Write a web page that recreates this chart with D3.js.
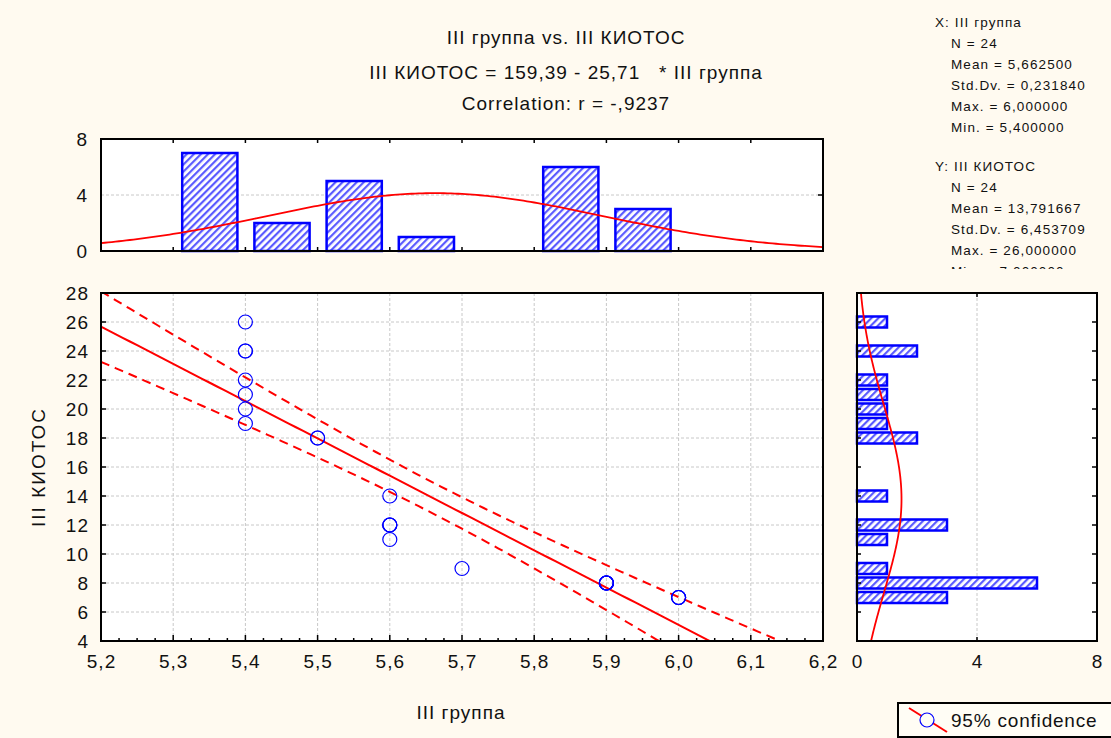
<!DOCTYPE html>
<html>
<head>
<meta charset="utf-8">
<script src="https://cdn.jsdelivr.net/npm/d3@7/dist/d3.min.js"></script>
<style>
  body { margin: 0; background: #fffaf0; }
  svg { display: block; font-family: "Liberation Sans", Arial, sans-serif; }
  text.title { white-space: pre; }
</style>
</head>
<body>
<div class="chart"></div>
<script>
function wrapper(){

// data
var xVals = [5.4,5.4,5.4,5.4,5.4,5.4,5.4, 5.5,5.5, 5.6,5.6,5.6,5.6,5.6, 5.7, 5.9,5.9,5.9,5.9,5.9,5.9, 6.0,6.0,6.0];
var yVals = [26,24,24,22,21,20,19, 18,18, 14,12,12,12,11, 9, 8,8,8,8,8,8, 7,7,7];

// histogram of X (bins as drawn: upper edge = value)
var xBinLo = [5.3, 5.4, 5.5, 5.6, 5.8, 5.9];
var xBinCount = [7, 2, 5, 1, 6, 3];
// histogram of Y (centered on the value)
var yBinVal = [26, 24, 22, 21, 20, 19, 18, 14, 12, 11, 9, 8, 7];
var yBinCount = [1, 2, 1, 1, 1, 1, 2, 1, 3, 1, 1, 6, 3];

var xTicks = [5.2,5.3,5.4,5.5,5.6,5.7,5.8,5.9,6.0,6.1,6.2];
var yTicks = [4,6,8,10,12,14,16,18,20,22,24,26,28];
var histTicks = [0,4,8];

var titleLines = ["III группа vs. III КИОТОС",
                  "III КИОТОС = 159,39 - 25,71   * III группа",
                  "Correlation: r = -,9237"];
var statsX = ["X:  III группа", "N = 24", "Mean = 5,662500", "Std.Dv. = 0,231840", "Max. = 6,000000", "Min. = 5,400000"];
var statsY = ["Y:  III КИОТОС", "N = 24", "Mean = 13,791667", "Std.Dv. = 6,453709", "Max. = 26,000000", "Min. = 7,000000"];

var W = 1111, H = 738;
var svg = d3.select("div.chart").append("svg").attr("width", W).attr("height", H);

var defs = svg.append("defs");
var pat = defs.append("pattern").attr("id", "hatch")
    .attr("patternUnits", "userSpaceOnUse").attr("width", 5).attr("height", 5)
    .attr("patternTransform", "rotate(45)");
pat.append("rect").attr("width", 5).attr("height", 5).attr("fill", "#fff");
pat.append("rect").attr("width", 2.2).attr("height", 5).attr("fill", "#5a5aff");

var blue = "#0000ff", red = "#ff0000";
var fs = 19, ls = 1;

// scales
var x = d3.scaleLinear().domain([5.2, 6.2]).range([101, 823]);
var y = d3.scaleLinear().domain([4, 28]).range([641, 293]);
var hy = d3.scaleLinear().domain([0, 8]).range([251, 139]);
var hx = d3.scaleLinear().domain([0, 8]).range([857, 1097]);

// stats
var n = xVals.length;
var mx = d3.mean(xVals), my = d3.mean(yVals);
var sx = d3.deviation(xVals), sy = d3.deviation(yVals);
var sxx = d3.sum(xVals, function(d){ return (d - mx) * (d - mx); });
var sxy = d3.sum(xVals, function(d, i){ return (d - mx) * (yVals[i] - my); });
var b = sxy / sxx, a = my - b * mx;
var ssr = d3.sum(xVals, function(d, i){ var e = yVals[i] - (a + b * d); return e * e; });
var s = Math.sqrt(ssr / (n - 2));
var tval = 2.074;
function npdf(v, m, sd){ return Math.exp(-0.5 * Math.pow((v - m) / sd, 2)) / (sd * Math.sqrt(2 * Math.PI)); }

function styleText(sel){
  sel.attr("font-size", fs).attr("letter-spacing", ls).attr("fill", "#111")
     .attr("font-family", "Liberation Sans, Arial, sans-serif");
}

// ---------- titles ----------
svg.selectAll(".title").data(titleLines).enter().append("text")
    .attr("class", "title")
    .attr("x", 566).attr("y", function(d, i){ return [44, 79, 110][i]; })
    .attr("text-anchor", "middle").call(styleText)
    .text(function(d){ return d; });

// ---------- stats box ----------
defs.append("clipPath").attr("id", "statsClip").append("rect")
    .attr("x", 900).attr("y", 0).attr("width", 211).attr("height", 269);
var st = svg.append("g").attr("clip-path", "url(#statsClip)")
    .attr("font-size", 13.5).attr("letter-spacing", 1.1).attr("fill", "#111");
[statsX, statsY].forEach(function(block, bi){
  st.selectAll(".s" + bi).data(block).enter().append("text")
    .attr("x", function(d, i){ return i === 0 ? 935 : 951; })
    .attr("y", function(d, i){ return (bi === 0 ? 27 : 171) + i * 21; })
    .text(function(d){ return d; });
});

// ---------- scatter ----------
var sc = svg.append("g");
sc.append("rect").attr("x", 101).attr("y", 293).attr("width", 722).attr("height", 348).attr("fill", "#fff");
sc.selectAll(".gx").data(xTicks.slice(1, -1)).enter().append("line")
    .attr("x1", function(d){ return x(d); }).attr("x2", function(d){ return x(d); })
    .attr("y1", 293).attr("y2", 641)
    .attr("stroke", "#c8c8c8").attr("stroke-dasharray", "3,2");
sc.selectAll(".gy").data(yTicks.slice(1, -1)).enter().append("line")
    .attr("y1", function(d){ return y(d); }).attr("y2", function(d){ return y(d); })
    .attr("x1", 101).attr("x2", 823)
    .attr("stroke", "#c8c8c8").attr("stroke-dasharray", "3,2");

defs.append("clipPath").attr("id", "scClip").append("rect")
    .attr("x", 101).attr("y", 293).attr("width", 722).attr("height", 348);
var lines = sc.append("g").attr("clip-path", "url(#scClip)");
var xs = d3.range(5.2, 6.2001, 0.01);
var fitLine = d3.line().x(function(d){ return x(d); }).y(function(d){ return y(a + b * d); });
function band(sign){
  return d3.line().x(function(d){ return x(d); }).y(function(d){
    var se = s * Math.sqrt(1 / n + (d - mx) * (d - mx) / sxx);
    return y(a + b * d + sign * tval * se);
  });
}
lines.append("path").attr("d", fitLine(xs)).attr("fill", "none").attr("stroke", red).attr("stroke-width", 2);
[1, -1].forEach(function(sg){
  lines.append("path").attr("d", band(sg)(xs)).attr("fill", "none")
    .attr("stroke", red).attr("stroke-width", 2).attr("stroke-dasharray", "9,6");
});
sc.selectAll(".pt").data(xVals).enter().append("circle")
    .attr("cx", function(d){ return x(d); }).attr("cy", function(d, i){ return y(yVals[i]); })
    .attr("r", 7).attr("fill", "none").attr("stroke", blue).attr("stroke-width", 1.2);

// axes
var xAxis = sc.append("g").attr("transform", "translate(0,641)")
    .call(d3.axisBottom(x).tickValues(xTicks).tickSize(0).tickPadding(14)
      .tickFormat(function(d){ return d3.format(".1f")(d).replace(".", ","); }));
var yAxis = sc.append("g").attr("transform", "translate(101,0)")
    .call(d3.axisLeft(y).tickValues(yTicks).tickSize(0).tickPadding(12));
[xAxis, yAxis].forEach(function(g){
  g.select(".domain").remove();
  g.selectAll("text").call(styleText);
});
// ticks inside frame
sc.selectAll(".mt").data(d3.range(5.2, 6.2001, 0.025)).enter().append("line")
    .attr("x1", function(d){ return x(d); }).attr("x2", function(d){ return x(d); })
    .attr("y1", 641).attr("y2", function(d, i){ return i % 4 === 0 ? 635 : 638; })
    .attr("stroke", "#000").attr("stroke-width", 1.5);
sc.selectAll(".yt").data(yTicks).enter().append("line")
    .attr("x1", 101).attr("x2", 106)
    .attr("y1", function(d){ return y(d); }).attr("y2", function(d){ return y(d); })
    .attr("stroke", "#000").attr("stroke-width", 1.5);
sc.append("rect").attr("x", 101).attr("y", 293).attr("width", 722).attr("height", 348)
    .attr("fill", "none").attr("stroke", "#000").attr("stroke-width", 2);

svg.append("text").attr("x", 461).attr("y", 719).attr("text-anchor", "middle")
    .call(styleText).text("III группа");
svg.append("text").attr("transform", "translate(45,467) rotate(-90)").attr("text-anchor", "middle")
    .call(styleText).attr("letter-spacing", 2).text("III КИОТОС");

// ---------- top histogram ----------
var th = svg.append("g");
th.append("rect").attr("x", 101).attr("y", 139).attr("width", 722).attr("height", 112).attr("fill", "#fff");
th.append("line").attr("x1", 101).attr("x2", 823).attr("y1", hy(4)).attr("y2", hy(4))
    .attr("stroke", "#c8c8c8").attr("stroke-dasharray", "3,2");
th.selectAll(".bar").data(xBinLo).enter().append("rect")
    .attr("x", function(d){ return x(d) + 9; })
    .attr("width", function(d){ return x(d + 0.1) - x(d) - 17; })
    .attr("y", function(d, i){ return hy(xBinCount[i]); })
    .attr("height", function(d, i){ return hy(0) - hy(xBinCount[i]); })
    .attr("fill", "url(#hatch)").attr("stroke", blue).attr("stroke-width", 2.5);
var cx = d3.range(5.2, 6.2001, 0.005);
th.append("path").attr("d", d3.line()
      .x(function(d){ return x(d); })
      .y(function(d){ return hy(n * 0.1 * npdf(d, mx, sx)); })(cx))
    .attr("fill", "none").attr("stroke", red).attr("stroke-width", 1.8);
th.selectAll(".tt").data(xTicks).enter().append("line")
    .attr("x1", function(d){ return x(d); }).attr("x2", function(d){ return x(d); })
    .attr("y1", 139).attr("y2", 143).attr("stroke", "#000").attr("stroke-width", 1.5);
th.selectAll(".bt").data(xTicks).enter().append("line")
    .attr("x1", function(d){ return x(d); }).attr("x2", function(d){ return x(d); })
    .attr("y1", 251).attr("y2", 247).attr("stroke", "#000").attr("stroke-width", 1.5);
th.append("line").attr("x1", 823).attr("x2", 818).attr("y1", hy(4)).attr("y2", hy(4)).attr("stroke", "#000").attr("stroke-width", 1.5);
th.append("rect").attr("x", 101).attr("y", 139).attr("width", 722).attr("height", 112)
    .attr("fill", "none").attr("stroke", "#000").attr("stroke-width", 2);
var thAxis = th.append("g").attr("transform", "translate(101,0)")
    .call(d3.axisLeft(hy).tickValues(histTicks).tickSize(0).tickPadding(13));
thAxis.select(".domain").remove();
thAxis.selectAll("text").call(styleText);

// ---------- right histogram ----------
var rh = svg.append("g");
rh.append("rect").attr("x", 857).attr("y", 293).attr("width", 240).attr("height", 348).attr("fill", "#fff");
rh.append("line").attr("x1", hx(4)).attr("x2", hx(4)).attr("y1", 293).attr("y2", 641)
    .attr("stroke", "#c8c8c8").attr("stroke-dasharray", "3,2");
rh.selectAll(".bar").data(yBinVal).enter().append("rect")
    .attr("x", hx(0))
    .attr("y", function(d){ return y(d + 0.38); })
    .attr("height", function(d){ return y(d - 0.38) - y(d + 0.38); })
    .attr("width", function(d, i){ return hx(yBinCount[i]) - hx(0); })
    .attr("fill", "url(#hatch)").attr("stroke", blue).attr("stroke-width", 2.5);
var cy = d3.range(4, 28.001, 0.05);
rh.append("path").attr("d", d3.line()
      .x(function(d){ return hx(n * 1 * npdf(d, my, sy)); })
      .y(function(d){ return y(d); })(cy))
    .attr("fill", "none").attr("stroke", red).attr("stroke-width", 1.8);
rh.selectAll(".rt").data(yTicks).enter().append("line")
    .attr("x1", 1097).attr("x2", 1092)
    .attr("y1", function(d){ return y(d); }).attr("y2", function(d){ return y(d); })
    .attr("stroke", "#000").attr("stroke-width", 1.5);
rh.selectAll(".lt").data(yTicks).enter().append("line")
    .attr("x1", 857).attr("x2", 861)
    .attr("y1", function(d){ return y(d); }).attr("y2", function(d){ return y(d); })
    .attr("stroke", "#000").attr("stroke-width", 1.5);
rh.selectAll(".ht").data(histTicks).enter().append("line")
    .attr("x1", function(d){ return hx(d); }).attr("x2", function(d){ return hx(d); })
    .attr("y1", 293).attr("y2", 297).attr("stroke", "#000").attr("stroke-width", 1.5);
rh.selectAll(".hb").data(histTicks).enter().append("line")
    .attr("x1", function(d){ return hx(d); }).attr("x2", function(d){ return hx(d); })
    .attr("y1", 641).attr("y2", 637).attr("stroke", "#000").attr("stroke-width", 1.5);
rh.append("rect").attr("x", 857).attr("y", 293).attr("width", 240).attr("height", 348)
    .attr("fill", "none").attr("stroke", "#000").attr("stroke-width", 2);
var rhAxis = rh.append("g").attr("transform", "translate(0,641)")
    .call(d3.axisBottom(hx).tickValues(histTicks).tickSize(0).tickPadding(14));
rhAxis.select(".domain").remove();
rhAxis.selectAll("text").call(styleText);

// ---------- legend ----------
var lg = svg.append("g");
lg.append("rect").attr("x", 898).attr("y", 703).attr("width", 220).attr("height", 34)
    .attr("fill", "#fffdf5").attr("stroke", "#000").attr("stroke-width", 2);
lg.append("line").attr("x1", 909).attr("y1", 708).attr("x2", 947).attr("y2", 732)
    .attr("stroke", red).attr("stroke-width", 2);
lg.append("circle").attr("cx", 927).attr("cy", 720).attr("r", 7)
    .attr("fill", "#fffdf5").attr("stroke", blue).attr("stroke-width", 1.2);
lg.append("text").attr("x", 951).attr("y", 727).call(styleText).attr("letter-spacing", 0.8)
    .text("95% confidence");

}
window.onload = wrapper;
</script>
</body>
</html>
